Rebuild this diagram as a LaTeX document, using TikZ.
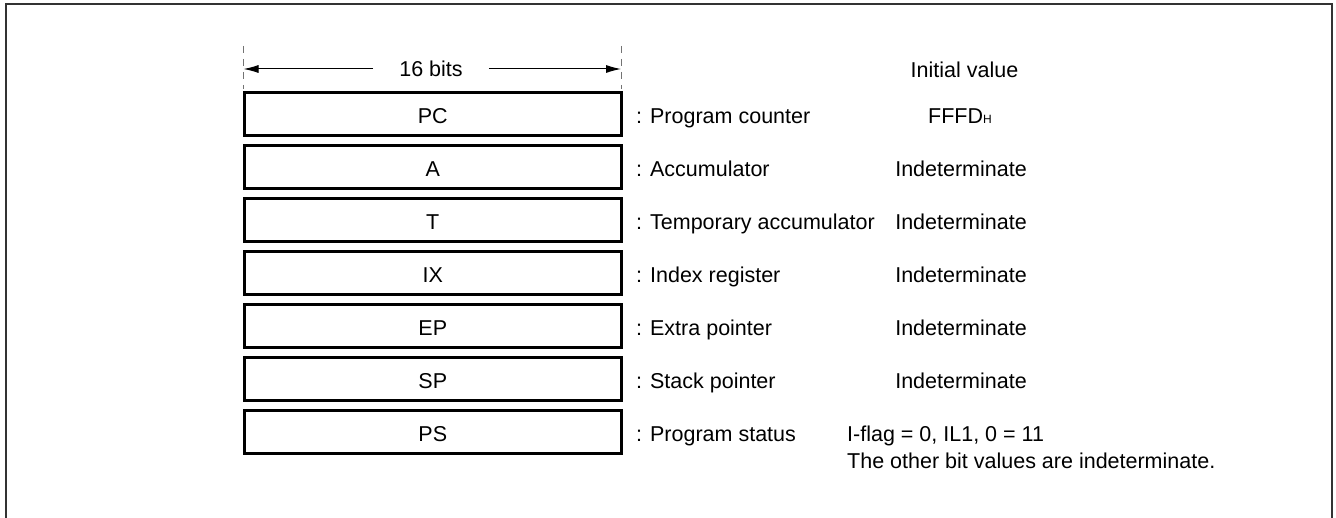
\documentclass[tikz,border=0pt]{standalone}
\usepackage{fontspec}
\setmainfont{Liberation Sans}
\usetikzlibrary{arrows.meta}
\begin{document}
\begin{tikzpicture}[x=1pt,y=-1pt,
  every node/.style={inner sep=0pt, font=\fontsize{21.5}{26}\selectfont},
  capline/.style={text height=23.4pt, text depth=4pt},
  regbox/.style={draw, line width=2.6pt, minimum width=377pt, minimum height=43pt, capline},
  frameline/.style={draw=black!80, line width=1.3pt},
  guide/.style={draw=black!55, line width=1pt, dash pattern=on 7pt off 6pt},
  dimarrow/.style={line width=1pt, -{Latex[length=15pt,width=8pt]}}
]
\useasboundingbox (0,0) rectangle (1336,518);

% open frame round the figure
\draw[frameline] (6,518) -- (6,4) -- (1332,4) -- (1332,518);

% width dimension: 16 bits
\coordinate (dlt) at (243.5,46);
\coordinate (dlb) at (243.5,89);
\coordinate (drt) at (621,46);
\coordinate (drb) at (621,89);
\draw[guide] (dlt) -- (dlb);
\draw[guide] (drt) -- (drb);
\coordinate (al) at (243.5,69);
\coordinate (ar) at (621,69);
\node[capline, inner xsep=26pt] (bits) at (431,67) {16 bits};
\draw[dimarrow] (bits.west |- al) -- (al);
\draw[dimarrow] (bits.east |- ar) -- (ar);

% column heading
\node[capline] (init) at (964.5,68) {Initial value};

% registers with their descriptions
\foreach \i/\reg/\desc in {0/PC/Program counter, 1/A/Accumulator,
    2/T/Temporary accumulator, 3/IX/Index register, 4/EP/Extra pointer,
    5/SP/Stack pointer, 6/PS/Program status} {
  \node[regbox] (box\i) at (432.75,{113.8+53*\i}) {\reg};
  \node[capline, anchor=west] (lbl\i) at (636,{113.8+53*\i}) {: \desc};
}

% initial values
\node[capline] (val0) at (960,113.8) {FFFD{\fontsize{12}{12}\selectfont H}};
\foreach \i in {1,...,5} {
  \node[capline] (val\i) at (961,{113.8+53*\i}) {Indeterminate};
}
\node[capline, anchor=west] (val6) at (847,431.8) {I-flag = 0, IL1, 0 = 11};
\node[anchor=base west] (val6b) at (847,468) {The other bit values are indeterminate.};
\end{tikzpicture}
\end{document}
